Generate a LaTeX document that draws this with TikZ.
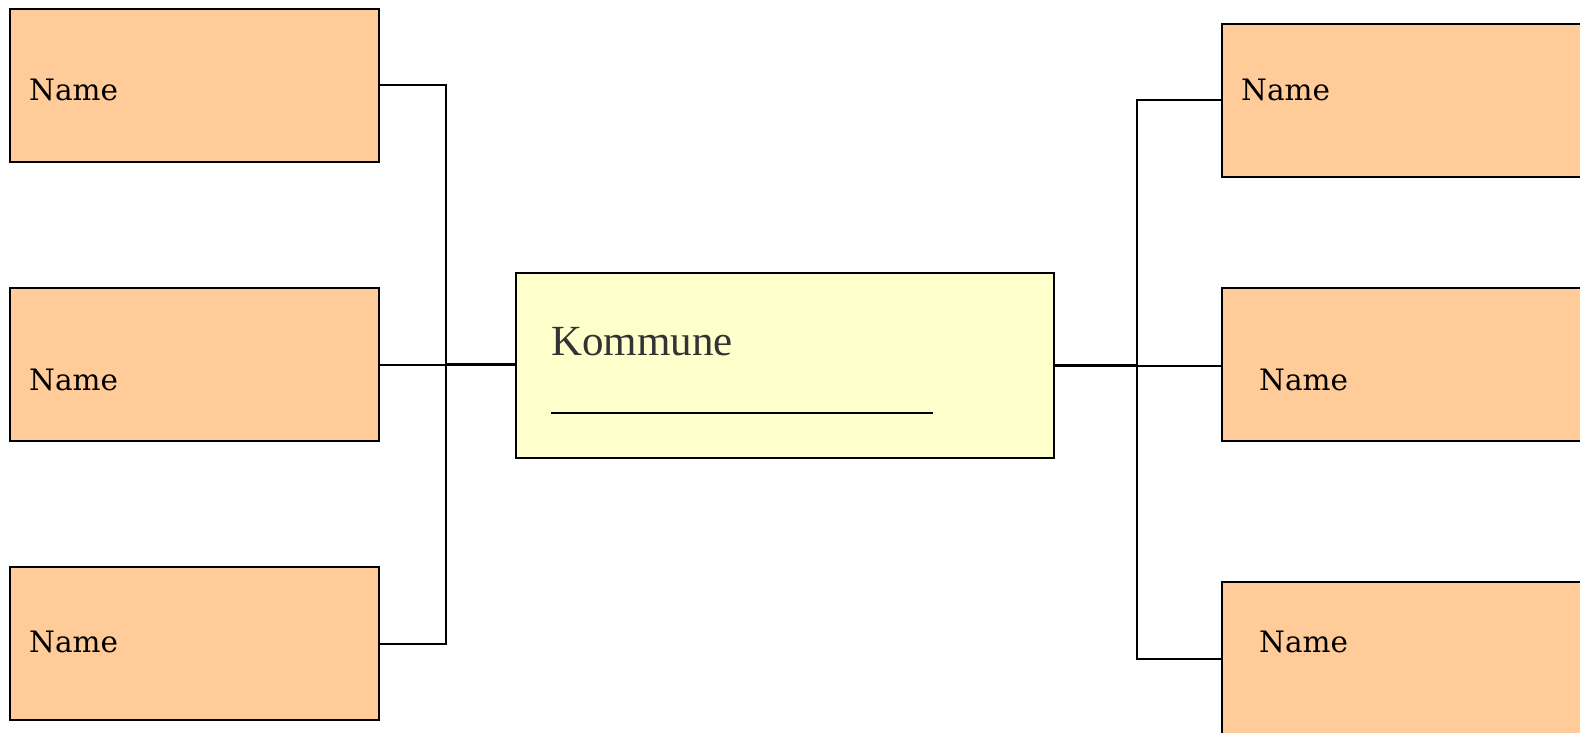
\documentclass[tikz,border=0pt]{standalone}
\usepackage{fontspec}
\setmainfont{DejaVu Serif}
\newfontfamily\kommunefont{Liberation Serif}
\definecolor{boxorange}{HTML}{FFCC99}
\definecolor{boxyellow}{HTML}{FFFFCC}
\definecolor{kommunegray}{HTML}{333333}
\begin{document}
\begin{tikzpicture}[x=1pt,y=-1pt,
  namebox/.style={draw=black, line width=2pt, fill=boxorange, minimum width=369pt,
    minimum height=153pt, inner sep=0pt, anchor=north west},
  namelabel/.style={anchor=base west, inner sep=0pt, font=\fontsize{29.5}{34}\selectfont},
  centerbox/.style={draw=black, line width=2pt, fill=boxyellow, minimum width=538pt,
    minimum height=185pt, inner sep=0pt, anchor=north west},
  link/.style={draw=black, line width=2pt},
  stublink/.style={draw=black, line width=3pt}]
\useasboundingbox (0,0) rectangle (1580,733);
\clip (0,0) rectangle (1580,733);

% left column
\node[namebox] (lb1) at (9,8) {};
\node[namebox] (lb2) at (9,287) {};
\node[namebox] (lb3) at (9,566) {};
\node[namelabel] (ln1) at (29,101) {Name};
\node[namelabel] (ln2) at (29,390) {Name};
\node[namelabel] (ln3) at (29,652) {Name};

% centre box
\node[centerbox] (kom) at (515,272) {};
\node[anchor=base west, inner sep=0pt, text=kommunegray,
  font=\kommunefont\fontsize{43}{50}\selectfont] (komlabel) at (551,355) {Kommune};
\coordinate (ulA) at (551,413);
\coordinate (ulB) at (933,413);
\draw[black, line width=2pt] (ulA) -- (ulB);

% right column
\node[namebox, minimum width=400pt] (rb1) at (1221,23) {};
\node[namebox, minimum width=400pt] (rb2) at (1221,287) {};
\node[namebox, minimum width=400pt, minimum height=200pt] (rb3) at (1221,581) {};
\node[namelabel] (rn1) at (1241,101) {Name};
\node[namelabel] (rn2) at (1259,390) {Name};
\node[namelabel] (rn3) at (1259,652) {Name};

% connectors
\coordinate (lbus) at (446,0);
\coordinate (rbus) at (1137,0);
\coordinate (rb3in) at (1221,659);
\draw[link] (lb1.east) -- (lb1.east -| lbus) |- (lb3.east);
\draw[link] (lb2.east) -- (lb2.east -| lbus);
\draw[stublink] (lb2.east -| lbus) -- (lb2.east -| kom.west);
\draw[stublink] (kom.east) -- (kom.east -| rbus);
\draw[link] (kom.east -| rbus) -- (kom.east -| rb2.west);
\draw[link] (rb1.west) -- (rb1.west -| rbus) |- (rb3in);
\end{tikzpicture}
\end{document}
